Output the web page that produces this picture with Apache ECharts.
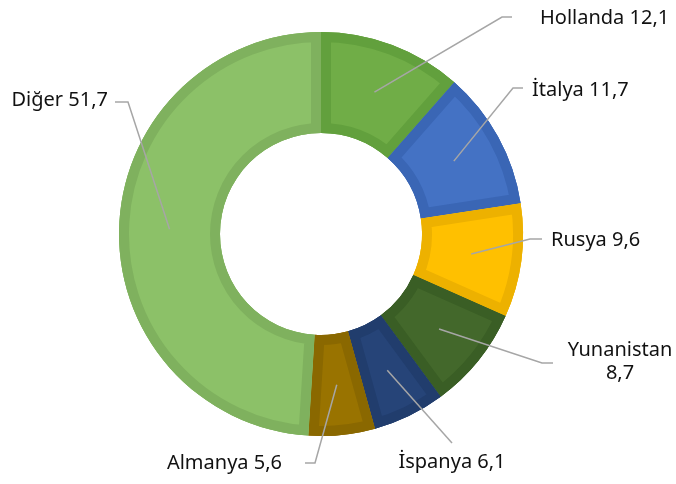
<!DOCTYPE html>
<html>
<head>
<meta charset="utf-8">
<script src="https://cdn.jsdelivr.net/npm/echarts@6/dist/echarts.min.js"></script>
<style>
  html, body { margin: 0; padding: 0; background: #fff; }
  #chart { width: 676px; height: 484px; }
</style>
</head>
<body>
<div id="chart"></div>
<script>
// ---- data ----
const categories = ['Hollanda', 'İtalya', 'Rusya', 'Yunanistan', 'İspanya', 'Almanya', 'Diğer'];
const values = [12.1, 11.7, 9.6, 8.7, 6.1, 5.6, 51.7];

// ---- styles ----
const fillColors = ['#70AD47', '#4472C4', '#FFC000', '#43682B', '#264478', '#997300', '#8CC168'];
const edgeColors = ['#62A03D', '#3A66B5', '#EDB100', '#3A5E25', '#213D6D', '#8A6800', '#7FB15E'];

// label placement (layout only)
const labelPlacement = [
  { x: 540, y: 18,  align: 'left',   line: [[502, 17], [512, 17]] },
  { x: 532, y: 90,  align: 'left',   line: [[513, 88], [523, 88]] },
  { x: 551, y: 240, align: 'left',   line: [[530, 239], [542, 239]] },
  { x: 620, y: 362, align: 'center', line: [[542, 363], [553, 363]], wrap: true },
  { x: 452, y: 462, align: 'center', line: [[452, 443]] },
  { x: 282, y: 463, align: 'right',  line: [[315, 463], [305, 463]] },
  { x: 108, y: 100, align: 'right',  line: [[128, 102], [115, 102]] }
];

const CENTER = [321, 234];
const R_IN = 101, R_OUT = 202, BORDER = 10;
const FONT = '"Noto Sans", sans-serif';

function fmt(v) { return v.toFixed(1).replace('.', ','); }

const total = values.reduce((a, b) => a + b, 0);
// cumulative start / end of every slice (derived from values)
const spans = [];
(function () {
  let cum = 0;
  values.forEach(v => { spans.push([cum, cum + v]); cum += v; });
})();

function midPoint(i, r) {
  const a = (spans[i][0] + values[i] / 2) / total * Math.PI * 2;
  return [CENTER[0] + r * Math.sin(a), CENTER[1] - r * Math.cos(a)];
}

function renderSlice(params, api) {
  const i = params.dataIndex;
  const s = api.value(0), e = api.value(1);
  const c = api.coord([0, s]);
  const pOut = api.coord([R_OUT, s]);
  const pIn = api.coord([R_IN, s]);
  const pEnd = api.coord([R_OUT, e]);
  const a1 = Math.atan2(pOut[1] - c[1], pOut[0] - c[0]);
  let a2 = Math.atan2(pEnd[1] - c[1], pEnd[0] - c[0]);
  while (a2 <= a1 + 1e-9) a2 += Math.PI * 2;
  const r = Math.hypot(pOut[0] - c[0], pOut[1] - c[1]);
  const r0 = Math.hypot(pIn[0] - c[0], pIn[1] - c[1]);
  const shape = { cx: c[0], cy: c[1], r0: r0, r: r, startAngle: a1, endAngle: a2, clockwise: true };
  return {
    type: 'sector',
    shape: shape,
    style: { fill: fillColors[i], stroke: edgeColors[i], lineWidth: BORDER * 2, lineJoin: 'miter' },
    clipPath: { type: 'sector', shape: Object.assign({}, shape) }
  };
}

const chart = echarts.init(document.getElementById('chart'), null, { renderer: 'canvas' });

const pieBase = {
  type: 'pie',
  center: CENTER,
  startAngle: 90,
  clockwise: true,
  silent: true,
  animation: false,
  avoidLabelOverlap: false,
  emphasis: { disabled: true }
};

chart.setOption({
  backgroundColor: '#ffffff',
  animation: false,
  polar: { center: CENTER, radius: [0, R_OUT] },
  angleAxis: { type: 'value', min: 0, max: total, startAngle: 90, clockwise: true, show: false },
  radiusAxis: { type: 'value', min: 0, max: R_OUT, show: false },
  series: [
    Object.assign({}, pieBase, {
      name: 'edge',
      z: 1,
      radius: [R_IN, R_OUT],
      label: { show: false },
      labelLine: { show: false },
      data: categories.map((c, i) => ({ name: c, value: values[i], itemStyle: { color: edgeColors[i], borderWidth: 0 } }))
    }),
    {
      type: 'custom',
      name: 'slices',
      coordinateSystem: 'polar',
      z: 2,
      silent: true,
      animation: false,
      renderItem: renderSlice,
      data: spans
    },
    Object.assign({}, pieBase, {
      name: 'labels',
      z: 5,
      radius: [0, (R_IN + R_OUT) / 2],
      itemStyle: { color: 'rgba(0,0,0,0)', borderWidth: 0 },
      label: {
        show: true,
        position: 'outside',
        fontFamily: FONT,
        fontSize: 20,
        lineHeight: 23,
        color: '#111',
        formatter: function (p) {
          const sep = labelPlacement[p.dataIndex].wrap ? '\n' : ' ';
          return p.name + sep + fmt(p.value);
        }
      },
      labelLine: {
        show: true,
        length: 10,
        length2: 10,
        lineStyle: { color: '#A6A6A6', width: 1.5 }
      },
      labelLayout: function (params) {
        const L = labelPlacement[params.dataIndex];
        const start = (params.labelLinePoints && params.labelLinePoints[0]) ? params.labelLinePoints[0] : midPoint(params.dataIndex, (R_IN + R_OUT) / 2);
        return {
          x: L.x,
          y: L.y,
          align: L.align,
          verticalAlign: 'middle',
          labelLinePoints: [start].concat(L.line)
        };
      },
      data: categories.map((c, i) => ({ name: c, value: values[i] }))
    })
  ]
});
</script>
</body>
</html>
